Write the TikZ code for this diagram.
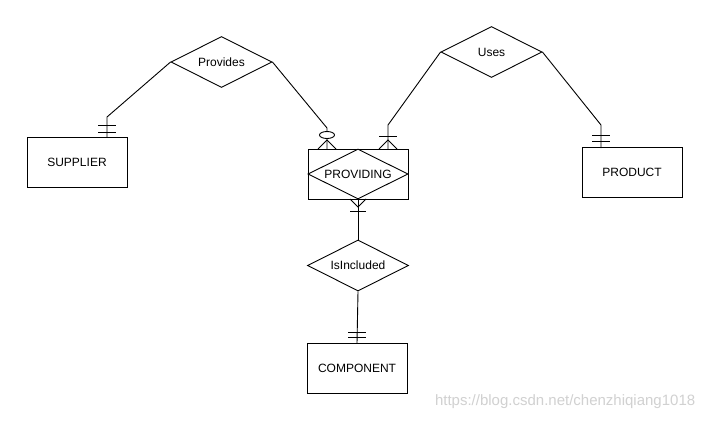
\documentclass[tikz,border=0pt]{standalone}
\usepackage{fontspec}
\setmainfont{Liberation Sans}
\usetikzlibrary{shapes.geometric}
\begin{document}
\begin{tikzpicture}[x=1pt,y=-1pt,line width=0.9pt,
  entity/.style={draw,minimum width=100pt,minimum height=50pt,inner sep=0pt,font=\fontsize{12}{14}\selectfont},
  rel/.style={draw,diamond,aspect=2,inner sep=0pt,minimum width=101pt,minimum height=51pt,font=\fontsize{12}{14}\selectfont},
  conn/.style={draw,line join=miter},
  bar/.style={draw}]
\useasboundingbox (0,0) rectangle (708,420);
\fill[white] (0,0) rectangle (708,420);
% entities
\node[entity] (sup) at (77,162.5) {SUPPLIER};
\node[entity] (prod) at (632,172.5) {PRODUCT};
\node[entity] (comp) at (357,368) {COMPONENT};
\node[entity] (pving) at (358,174) {};
\node[rel,minimum width=100pt,minimum height=50pt] (pvd) at (358,174) {PROVIDING};
% relationships
\node[rel] (provides) at (221.5,62) {Provides};
\node[rel] (uses) at (491.5,52) {Uses};
\node[rel] (incl) at (358,265.5) {IsIncluded};
% bend points
\coordinate (b1) at (107,117);
\coordinate (b2) at (327,128);
\coordinate (b3) at (388,125);
\coordinate (b4) at (601,125);
\coordinate (e1) at (107,137.5);
\coordinate (e2) at (327,149);
\coordinate (e3) at (388,149);
\coordinate (e4) at (601,148);
\coordinate (e5) at (357,343);
% connectors
\draw[conn] (provides.west) -- (b1) -- (e1);
\draw[conn] (provides.east) -- (b2) -- (e2);
\draw[conn] (uses.west) -- (b3) -- (e3);
\draw[conn] (uses.east) -- (b4) -- (e4);
\draw[conn] (pving.south) -- (incl.north);
\draw[conn] (incl.south) -- (e5);
% SUPPLIER: one and only one
\draw[bar] (98,125) -- (116,125);
\draw[bar] (98,132) -- (116,132);
% PRODUCT
\draw[bar] (592,135) -- (610,135);
\draw[bar] (592,141) -- (610,141);
% COMPONENT
\draw[bar] (348,332) -- (366,332);
\draw[bar] (348,337) -- (366,337);
% PROVIDING top-left: zero or many
\draw (318,149) -- (327,140) -- (336,149);
\draw[fill=white] (327,135) ellipse[x radius=7.5pt,y radius=3.5pt];
% PROVIDING top-right: one or many
\draw (379,149) -- (388,140) -- (397,149);
\draw[bar] (379,136) -- (397,136);
% PROVIDING bottom: one or many
\draw (350,199) -- (358,207) -- (366,199);
\draw[bar] (350,211) -- (366,211);
% watermark
\node[text=black!18,font=\fontsize{15}{17}\selectfont,anchor=east] (wm) at (699,402) {https://blog.csdn.net/chenzhiqiang1018};
\end{tikzpicture}
\end{document}
